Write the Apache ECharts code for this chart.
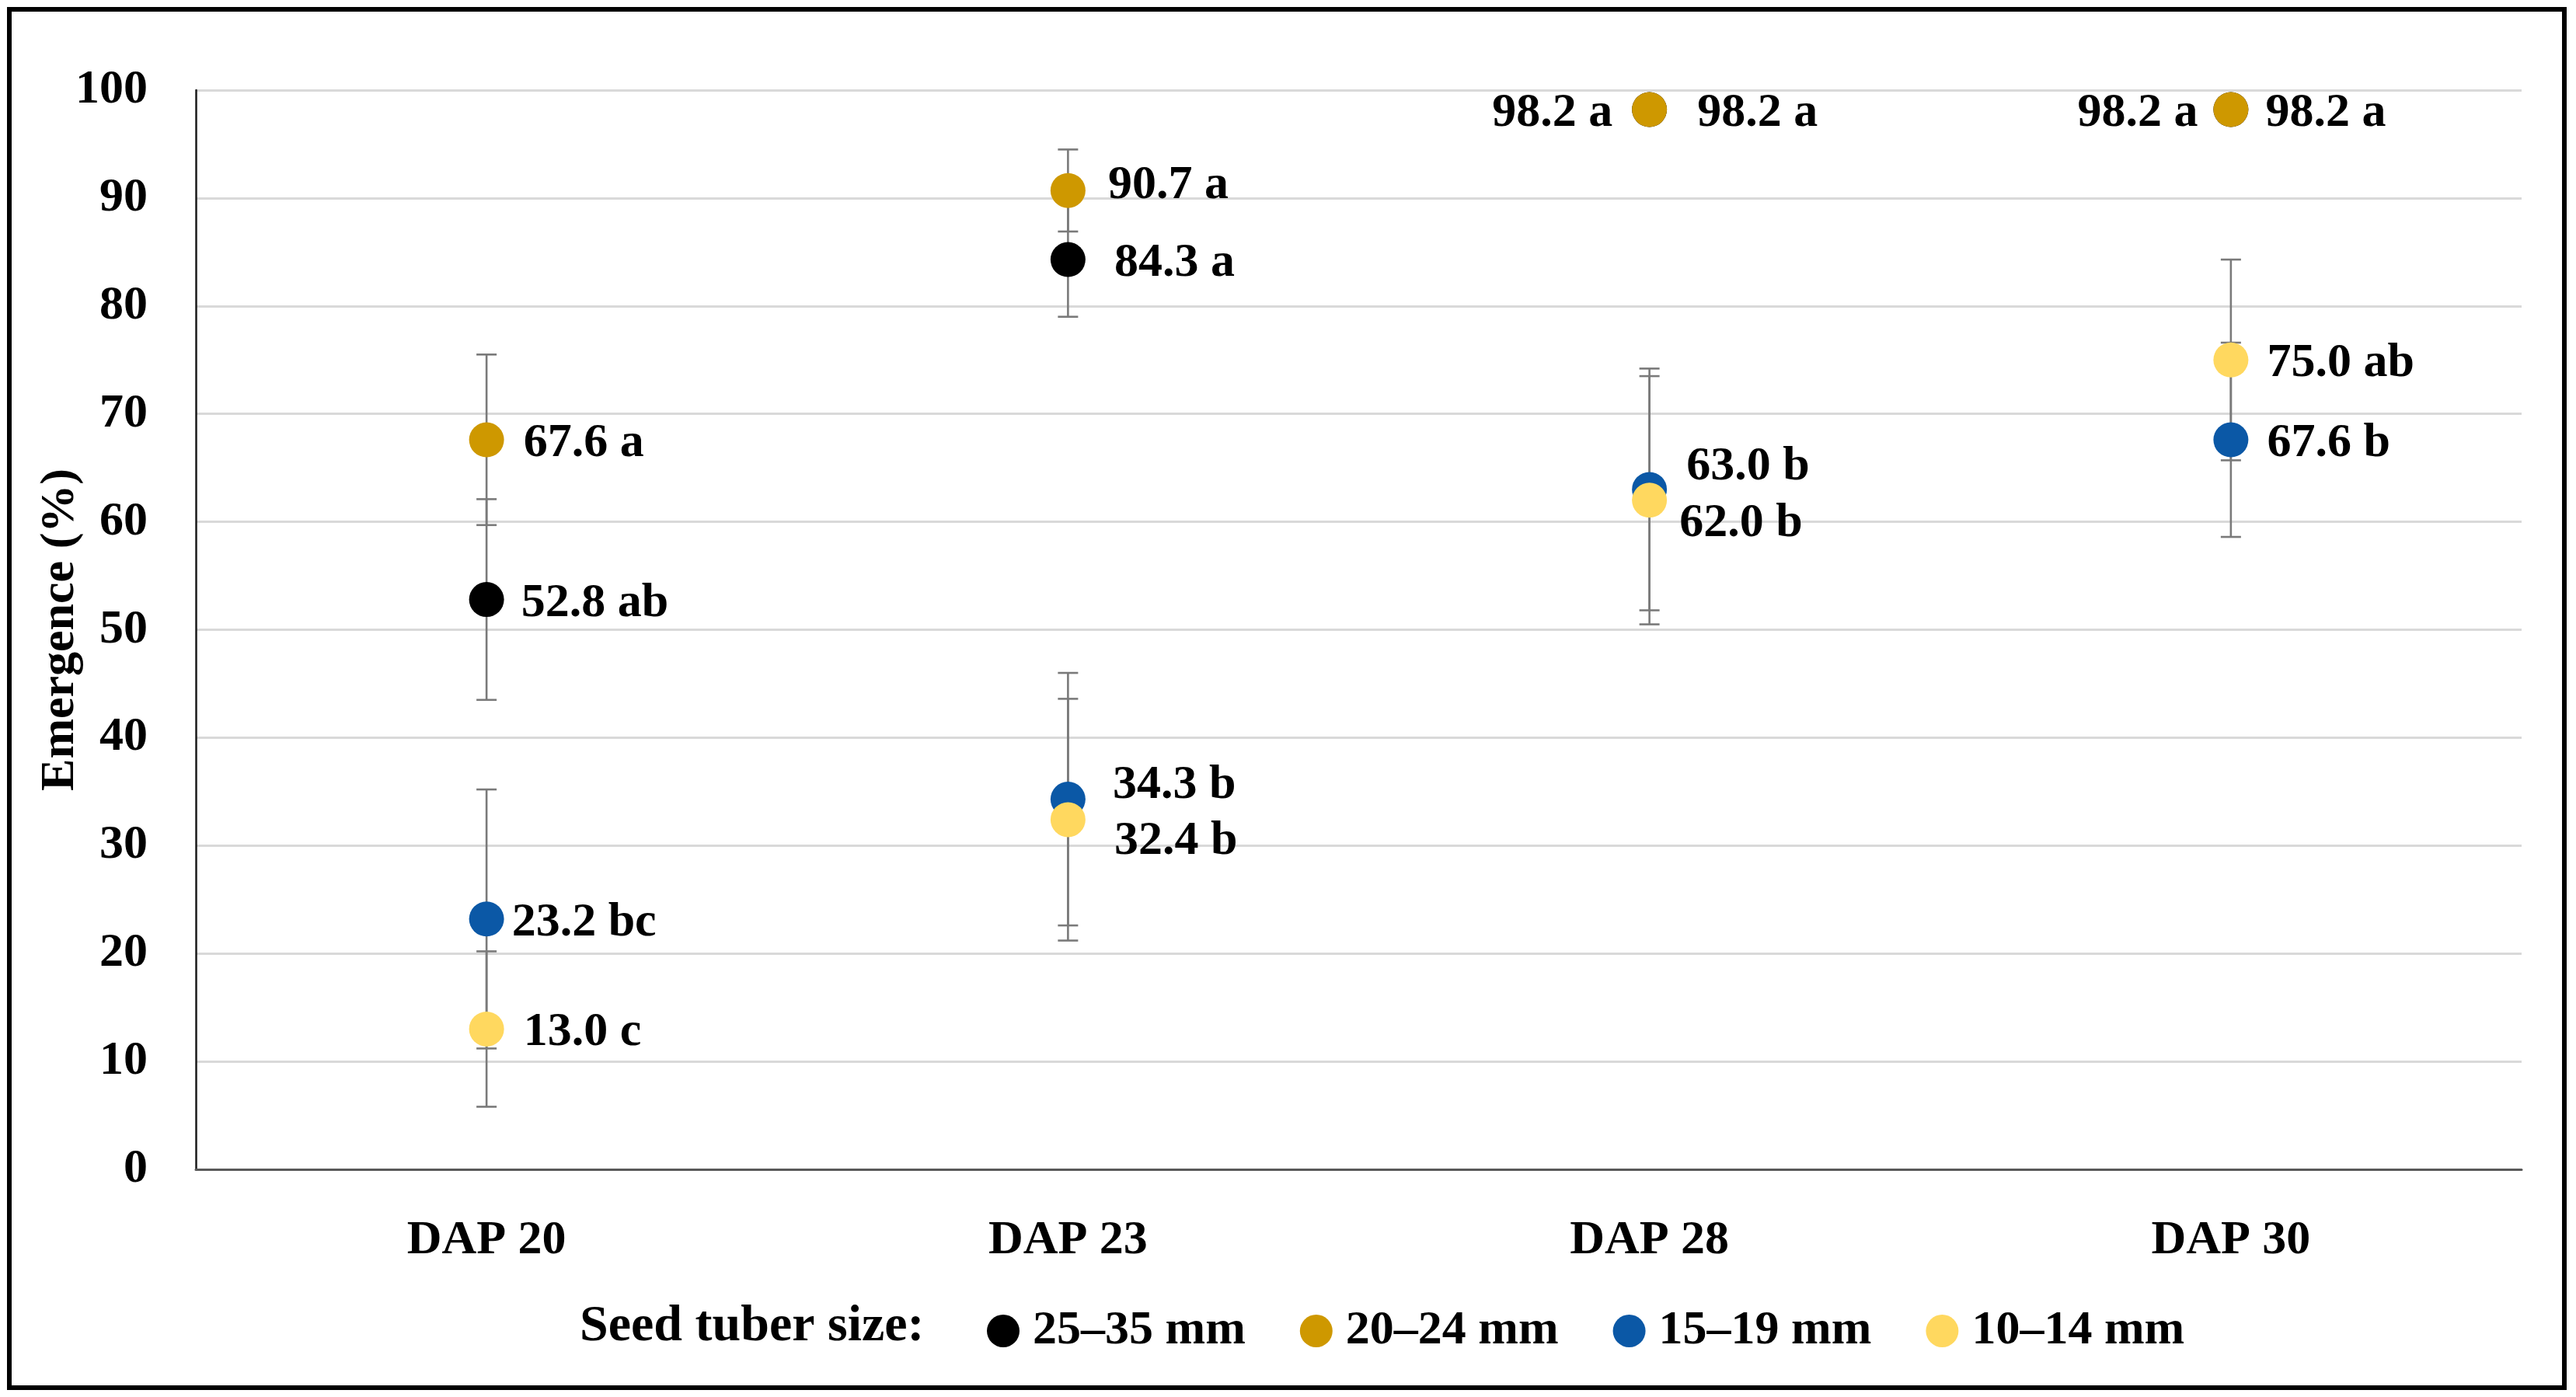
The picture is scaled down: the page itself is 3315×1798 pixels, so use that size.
<!DOCTYPE html>
<html><head><meta charset="utf-8">
<script src="https://cdn.jsdelivr.net/npm/echarts@6/dist/echarts.min.js"></script>
<style>html,body{margin:0;padding:0;background:#fff}#c{width:3315px;height:1798px}</style>
</head><body><div id="c"></div>
<script>
const categories = ['DAP 20', 'DAP 23', 'DAP 28', 'DAP 30'];
const seriesNames = ['25–35 mm', '20–24 mm', '15–19 mm', '10–14 mm'];
const seriesColors = ['#000000', '#CE9800', '#0B58A6', '#FFD85F'];

const mean_25_35 = [52.8, 84.3, 98.2, 98.2];
const mean_20_24 = [67.6, 90.7, 98.2, 98.2];
const mean_15_19 = [23.2, 34.3, 63.0, 67.6];
const mean_10_14 = [13.0, 32.4, 62.0, 75.0];

const err_25_35 = [9.3, 5.3, 0.9, 0.9];
const err_20_24 = [7.9, 3.8, 0.9, 0.9];
const err_15_19 = [12.0, 11.7, 11.2, 9.0];
const err_10_14 = [7.2, 11.2, 11.5, 9.3];

const letters_25_35 = ['ab', 'a', 'a', 'a'];
const letters_20_24 = ['a', 'a', 'a', 'a'];
const letters_15_19 = ['bc', 'b', 'b', 'b'];
const letters_10_14 = ['c', 'b', 'b', 'ab'];

const means = [mean_25_35, mean_20_24, mean_15_19, mean_10_14];
const errs = [err_25_35, err_20_24, err_15_19, err_10_14];
const letters = [letters_25_35, letters_20_24, letters_15_19, letters_10_14];

// label placement (style only): [side, distance, vertical nudge]
const labelPlacement = [
  [['right', 22, 0], ['right', 37, 0], ['left', 25, 0], ['left', 20, 0]],
  [['right', 25, 0], ['right', 29, -11], ['right', 39, 0], ['right', 22, 0]],
  [['right', 10, 0], ['right', 35, -23], ['right', 25, -34], ['right', 24, 0]],
  [['right', 25, 0], ['right', 37, 23], ['right', 16, 25], ['right', 24, 0]]
];
const LABEL_SHIFT = 5;

const FONT = '"Liberation Serif", "Times New Roman", serif';
const FS = 62;

const chart = echarts.init(document.getElementById('c'), null, {renderer: 'canvas'});

const series = [];
// error bars (behind markers)
means.forEach((m, s) => {
  series.push({
    type: 'custom',
    name: seriesNames[s] + ' SD',
    z: 2,
    silent: true,
    data: m.map((v, i) => [i, v - errs[s][i], v + errs[s][i]]),
    renderItem: function (params, api) {
      const x = api.value(0);
      const pLo = api.coord([x, api.value(1)]);
      const pHi = api.coord([x, api.value(2)]);
      const hw = 13;
      const st = {stroke: '#7A7A7A', lineWidth: 2.6};
      return {
        type: 'group',
        children: [
          {type: 'line', shape: {x1: pHi[0], y1: pHi[1], x2: pLo[0], y2: pLo[1]}, style: st},
          {type: 'line', shape: {x1: pHi[0] - hw, y1: pHi[1], x2: pHi[0] + hw, y2: pHi[1]}, style: st},
          {type: 'line', shape: {x1: pLo[0] - hw, y1: pLo[1], x2: pLo[0] + hw, y2: pLo[1]}, style: st}
        ]
      };
    }
  });
});
// markers
means.forEach((m, s) => {
  series.push({
    type: 'scatter',
    name: seriesNames[s],
    z: 3 + s,
    symbol: 'circle',
    symbolSize: 45,
    itemStyle: {color: seriesColors[s], opacity: 1},
    data: m.map((v, i) => {
      const p = labelPlacement[s][i];
      return {
        value: v,
        label: {
          show: true,
          position: p[0],
          distance: p[1],
          offset: [0, p[2] + LABEL_SHIFT],
          formatter: v.toFixed(1) + ' ' + letters[s][i]
        }
      };
    }),
    label: {
      show: true,
      color: '#000',
      fontFamily: FONT,
      fontWeight: 'bold',
      fontSize: FS
    },
    emphasis: {disabled: true}
  });
});

chart.setOption({
  animation: false,
  backgroundColor: '#fff',
  grid: {left: 252, right: 70, top: 116, bottom: 293, containLabel: false},
  xAxis: {
    type: 'category',
    data: categories,
    boundaryGap: true,
    axisLine: {show: true, lineStyle: {color: '#595959', width: 3}},
    axisTick: {show: false},
    axisLabel: {color: '#000', fontFamily: FONT, fontWeight: 'bold', fontSize: FS, margin: 61},
    splitLine: {show: false}
  },
  yAxis: {
    type: 'value',
    min: 0, max: 100, interval: 10,
    name: 'Emergence (%)',
    nameLocation: 'middle',
    nameGap: 143,
    nameMoveOverlap: false,
    nameTextStyle: {color: '#000', fontFamily: FONT, fontWeight: 'bold', fontSize: FS},
    axisLine: {show: true, lineStyle: {color: '#1a1a1a', width: 2.5}},
    axisTick: {show: false},
    axisLabel: {color: '#000', fontFamily: FONT, fontWeight: 'bold', fontSize: FS, margin: 62},
    splitLine: {show: true, lineStyle: {color: '#D9D9D9', width: 3}}
  },
  legend: {
    data: seriesNames.map(n => ({name: n, icon: 'circle'})),
    left: 1265,
    top: 1677,
    itemWidth: 42,
    itemHeight: 42,
    itemGap: 70,
    textStyle: {color: '#000', fontFamily: FONT, fontWeight: 'bold', fontSize: FS, padding: [0, 0, 0, 12]},
    selectedMode: false
  },
  graphic: [
    {type: 'text', z: 50, style: {x: 746, y: 1708, text: 'Seed tuber size:', font: 'bold 66px ' + FONT, fill: '#000', verticalAlign: 'middle', align: 'left'}},
    {type: 'rect', z: 100, shape: {x: 12, y: 12, width: 3288, height: 1774}, style: {fill: 'none', stroke: '#000', lineWidth: 6}}
  ],
  series: series
});
</script>
</body></html>
